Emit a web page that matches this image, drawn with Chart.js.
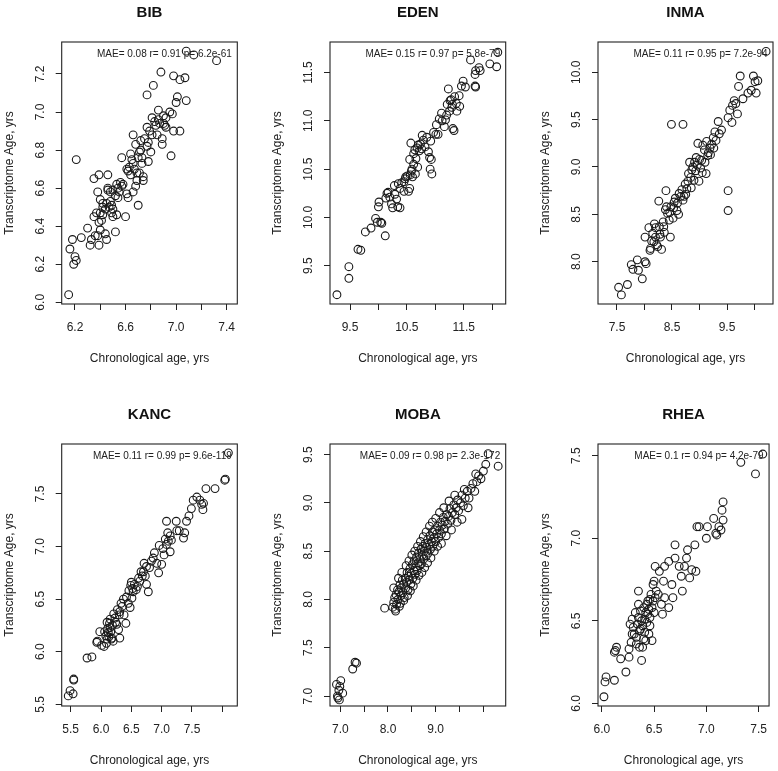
<!DOCTYPE html>
<html lang="en">
<head>
<meta charset="utf-8" />
<title>Transcriptome age vs chronological age</title>
<script src="https://cdn.jsdelivr.net/npm/chart.js@4.4.0/dist/chart.umd.min.js"></script>
<style>
  body { margin: 0; background: #fff; }
  #wrap { position: relative; width: 778px; height: 771px; }
  #wrap canvas { position: absolute; }
</style>
</head>
<body>
<div id="wrap"></div>
<script>
// ---------------- data (chronological age, transcriptome age) ----------------
const bibPoints = [[6.15,6.04],[6.16,6.28],[6.18,6.33],[6.19,6.20],[6.20,6.24],[6.21,6.22],[6.21,6.75],[6.25,6.34],[6.30,6.39],[6.32,6.30],[6.33,6.33],[6.35,6.45],[6.35,6.65],[6.36,6.35],[6.37,6.47],[6.38,6.58],[6.38,6.35],[6.39,6.67],[6.39,6.30],[6.40,6.38],[6.39,6.42],[6.40,6.47],[6.40,6.54],[6.41,6.43],[6.42,6.46],[6.42,6.52],[6.42,6.50],[6.44,6.36],[6.44,6.49],[6.45,6.33],[6.45,6.52],[6.46,6.60],[6.46,6.67],[6.46,6.59],[6.47,6.50],[6.48,6.58],[6.48,6.53],[6.49,6.47],[6.49,6.51],[6.50,6.45],[6.50,6.59],[6.50,6.49],[6.52,6.37],[6.52,6.56],[6.53,6.46],[6.53,6.62],[6.54,6.60],[6.54,6.55],[6.55,6.58],[6.56,6.63],[6.57,6.61],[6.57,6.76],[6.58,6.62],[6.60,6.45],[6.61,6.57],[6.61,6.70],[6.62,6.55],[6.62,6.69],[6.63,6.71],[6.64,6.67],[6.64,6.78],[6.65,6.75],[6.66,6.88],[6.66,6.73],[6.66,6.58],[6.67,6.70],[6.68,6.61],[6.68,6.83],[6.69,6.68],[6.69,6.64],[6.70,6.51],[6.70,6.76],[6.71,6.68],[6.71,6.79],[6.72,6.85],[6.72,6.80],[6.73,6.76],[6.73,6.73],[6.74,6.64],[6.74,6.66],[6.75,6.86],[6.77,6.82],[6.77,6.92],[6.77,7.09],[6.78,6.84],[6.78,6.74],[6.79,6.90],[6.80,6.79],[6.81,6.88],[6.81,6.97],[6.82,7.14],[6.83,6.95],[6.84,6.93],[6.85,6.88],[6.86,7.01],[6.86,6.96],[6.87,6.94],[6.88,7.21],[6.89,6.86],[6.89,6.83],[6.90,6.94],[6.90,6.98],[6.91,6.93],[6.92,6.92],[6.92,6.97],[6.95,7.00],[6.96,6.77],[6.97,6.99],[6.98,6.90],[6.98,7.19],[7.00,7.05],[7.01,7.08],[7.03,6.90],[7.03,7.17],[7.07,7.18],[7.08,7.06],[7.08,7.32],[7.14,7.30],[7.32,7.27]];

const edenPoints = [[9.27,9.20],[9.48,9.37],[9.48,9.49],[9.64,9.67],[9.69,9.66],[9.77,9.85],[9.87,9.89],[9.95,9.99],[9.98,9.95],[10.04,9.95],[10.06,9.94],[10.00,10.11],[10.01,10.16],[10.12,9.81],[10.13,10.20],[10.15,10.25],[10.17,10.26],[10.20,10.21],[10.23,10.14],[10.25,10.10],[10.28,10.33],[10.29,10.24],[10.32,10.19],[10.34,10.11],[10.38,10.10],[10.35,10.35],[10.38,10.30],[10.41,10.36],[10.45,10.37],[10.47,10.40],[10.48,10.42],[10.45,10.27],[10.51,10.43],[10.53,10.27],[10.55,10.30],[10.56,10.44],[10.58,10.48],[10.60,10.42],[10.55,10.60],[10.57,10.77],[10.59,10.50],[10.62,10.66],[10.64,10.70],[10.66,10.61],[10.68,10.72],[10.70,10.75],[10.72,10.69],[10.74,10.76],[10.76,10.71],[10.65,10.45],[10.69,10.52],[10.62,10.55],[10.77,10.85],[10.79,10.80],[10.82,10.73],[10.85,10.83],[10.88,10.68],[10.90,10.62],[10.93,10.60],[10.94,10.45],[10.91,10.50],[10.92,10.79],[10.97,10.88],[11.01,10.86],[11.02,10.96],[11.05,10.86],[11.07,11.02],[11.11,11.08],[11.12,11.00],[11.16,10.94],[11.18,11.01],[11.20,11.06],[11.21,11.17],[11.23,11.33],[11.25,11.10],[11.26,11.21],[11.28,11.22],[11.29,11.14],[11.30,11.17],[11.31,10.92],[11.33,10.90],[11.34,11.25],[11.37,11.18],[11.38,11.10],[11.42,11.26],[11.43,11.15],[11.46,11.36],[11.49,11.41],[11.53,11.35],[11.62,11.63],[11.70,11.48],[11.71,11.52],[11.77,11.55],[11.79,11.52],[11.70,11.36],[11.71,11.35],[11.96,11.59],[12.08,11.56],[12.10,11.71]];

const inmaPoints = [[7.53,7.73],[7.58,7.65],[7.69,7.76],[7.76,7.97],[7.79,7.92],[7.87,8.02],[7.89,7.91],[7.96,7.82],[8.01,8.00],[8.03,7.98],[8.01,8.26],[8.08,8.36],[8.10,8.12],[8.11,8.14],[8.13,8.22],[8.15,8.30],[8.18,8.40],[8.17,8.21],[8.20,8.26],[8.20,8.36],[8.22,8.18],[8.24,8.16],[8.26,8.64],[8.27,8.37],[8.28,8.29],[8.29,8.26],[8.31,8.13],[8.34,8.42],[8.35,8.37],[8.36,8.31],[8.38,8.55],[8.39,8.75],[8.40,8.58],[8.42,8.51],[8.45,8.44],[8.46,8.52],[8.47,8.26],[8.48,8.58],[8.49,9.45],[8.52,8.46],[8.53,8.57],[8.54,8.63],[8.56,8.67],[8.59,8.54],[8.60,8.62],[8.62,8.50],[8.63,8.72],[8.66,8.69],[8.68,8.76],[8.70,9.45],[8.70,8.65],[8.72,8.69],[8.74,8.82],[8.75,8.71],[8.77,8.77],[8.79,8.85],[8.80,8.93],[8.82,9.05],[8.84,8.89],[8.85,8.78],[8.86,8.97],[8.88,9.00],[8.90,8.86],[8.91,9.05],[8.93,8.96],[8.94,9.10],[8.96,9.02],[8.97,9.25],[8.99,8.85],[9.00,9.08],[9.02,8.99],[9.04,9.07],[9.05,8.94],[9.06,9.23],[9.09,9.18],[9.10,9.05],[9.12,8.93],[9.13,9.27],[9.15,9.12],[9.16,9.15],[9.19,9.20],[9.20,9.13],[9.22,9.24],[9.25,9.31],[9.26,9.20],[9.28,9.37],[9.30,9.28],[9.34,9.48],[9.36,9.35],[9.40,9.39],[9.52,9.52],[9.55,9.60],[9.52,8.75],[9.52,8.54],[9.59,9.47],[9.60,9.65],[9.63,9.70],[9.66,9.67],[9.69,9.56],[9.71,9.85],[9.74,9.96],[9.79,9.72],[9.88,9.78],[9.94,9.81],[9.98,9.96],[10.01,9.90],[10.03,9.78],[10.06,9.91],[10.21,10.22]];

const kancPoints = [[5.46,5.58],[5.49,5.63],[5.54,5.60],[5.55,5.74],[5.55,5.73],[5.77,5.94],[5.85,5.95],[5.93,6.09],[5.94,6.10],[5.98,6.19],[6.01,6.06],[6.05,6.05],[6.06,6.19],[6.08,6.15],[6.09,6.08],[6.10,6.28],[6.10,6.12],[6.11,6.22],[6.12,6.18],[6.13,6.14],[6.14,6.27],[6.15,6.23],[6.15,6.31],[6.16,6.19],[6.17,6.12],[6.18,6.13],[6.19,6.25],[6.20,6.10],[6.21,6.36],[6.23,6.32],[6.24,6.28],[6.26,6.26],[6.27,6.40],[6.29,6.21],[6.30,6.35],[6.31,6.38],[6.31,6.13],[6.33,6.46],[6.35,6.43],[6.37,6.50],[6.38,6.35],[6.41,6.27],[6.42,6.52],[6.45,6.46],[6.46,6.58],[6.48,6.42],[6.49,6.63],[6.50,6.66],[6.51,6.51],[6.52,6.60],[6.53,6.57],[6.55,6.64],[6.58,6.59],[6.60,6.62],[6.62,6.70],[6.64,6.67],[6.66,6.76],[6.68,6.72],[6.70,6.76],[6.71,6.84],[6.73,6.72],[6.75,6.81],[6.75,6.64],[6.78,6.57],[6.80,6.80],[6.83,6.86],[6.86,6.89],[6.88,6.94],[6.92,6.84],[6.95,6.75],[6.96,7.01],[7.00,6.83],[7.02,6.98],[7.04,6.92],[7.06,7.07],[7.08,7.02],[7.08,7.24],[7.10,7.13],[7.11,7.05],[7.14,6.95],[7.14,7.10],[7.16,7.06],[7.24,7.24],[7.25,7.15],[7.29,7.15],[7.36,7.08],[7.38,7.13],[7.41,7.24],[7.45,7.29],[7.49,7.36],[7.52,7.44],[7.58,7.47],[7.63,7.44],[7.66,7.40],[7.68,7.35],[7.69,7.41],[7.73,7.55],[7.88,7.55],[8.04,7.63],[8.05,7.64],[8.10,7.89]];

const mobaPoints = [[6.94,7.00],[6.97,7.06],[6.99,7.10],[6.92,7.12],[7.01,7.16],[7.05,7.03],[6.98,6.96],[6.95,6.98],[7.26,7.28],[7.31,7.35],[7.34,7.34],[7.93,7.91],[8.10,7.92],[8.12,7.97],[8.12,8.12],[8.14,8.02],[8.15,7.90],[8.16,7.88],[8.17,8.05],[8.18,7.95],[8.20,8.10],[8.21,8.00],[8.22,8.22],[8.23,8.08],[8.24,7.93],[8.25,8.15],[8.26,7.96],[8.27,8.04],[8.28,8.12],[8.29,8.28],[8.30,8.20],[8.31,8.07],[8.33,8.16],[8.33,7.99],[8.34,8.02],[8.36,8.22],[8.37,8.12],[8.38,8.35],[8.39,8.18],[8.40,8.28],[8.41,8.04],[8.42,8.10],[8.43,8.24],[8.44,8.40],[8.45,8.20],[8.46,8.32],[8.47,8.09],[8.48,8.16],[8.49,8.27],[8.50,8.46],[8.51,8.36],[8.52,8.22],[8.53,8.14],[8.54,8.30],[8.55,8.40],[8.56,8.50],[8.57,8.26],[8.58,8.34],[8.59,8.20],[8.60,8.44],[8.61,8.30],[8.62,8.55],[8.63,8.38],[8.64,8.48],[8.65,8.25],[8.66,8.35],[8.67,8.42],[8.68,8.60],[8.69,8.52],[8.70,8.37],[8.71,8.28],[8.72,8.46],[8.73,8.55],[8.74,8.65],[8.75,8.42],[8.76,8.50],[8.77,8.33],[8.78,8.58],[8.80,8.45],[8.80,8.70],[8.81,8.54],[8.83,8.62],[8.83,8.38],[8.84,8.48],[8.86,8.57],[8.87,8.76],[8.88,8.66],[8.89,8.52],[8.90,8.43],[8.91,8.60],[8.93,8.70],[8.93,8.80],[8.94,8.55],[8.96,8.64],[8.97,8.50],[8.98,8.72],[9.00,8.60],[9.00,8.84],[9.02,8.68],[9.04,8.76],[9.04,8.55],[9.06,8.64],[9.08,8.72],[9.08,8.90],[9.10,8.80],[9.12,8.68],[9.12,8.58],[9.14,8.77],[9.16,8.85],[9.17,8.95],[9.18,8.73],[9.20,8.81],[9.22,8.66],[9.23,8.88],[9.25,8.78],[9.27,8.86],[9.28,9.02],[9.30,8.94],[9.32,8.82],[9.33,8.72],[9.35,8.90],[9.38,8.98],[9.40,8.88],[9.40,9.08],[9.43,8.95],[9.45,8.80],[9.46,9.03],[9.48,8.92],[9.52,9.00],[9.55,9.08],[9.55,8.83],[9.58,8.97],[9.60,9.14],[9.62,9.05],[9.66,9.12],[9.68,8.95],[9.70,9.05],[9.74,9.15],[9.78,9.20],[9.82,9.12],[9.84,9.30],[9.86,9.22],[9.90,9.28],[9.95,9.25],[10.00,9.33],[10.05,9.40],[10.10,9.51],[10.31,9.38]];

const rheaPoints = [[6.02,6.04],[6.03,6.13],[6.04,6.16],[6.12,6.14],[6.12,6.31],[6.13,6.32],[6.14,6.34],[6.18,6.27],[6.23,6.19],[6.26,6.28],[6.26,6.33],[6.28,6.37],[6.27,6.48],[6.29,6.51],[6.29,6.42],[6.30,6.46],[6.31,6.42],[6.32,6.55],[6.33,6.40],[6.33,6.36],[6.34,6.48],[6.35,6.68],[6.35,6.60],[6.35,6.52],[6.36,6.34],[6.36,6.44],[6.37,6.45],[6.37,6.56],[6.38,6.26],[6.38,6.50],[6.39,6.47],[6.39,6.34],[6.40,6.39],[6.40,6.58],[6.41,6.51],[6.41,6.43],[6.42,6.55],[6.42,6.38],[6.43,6.60],[6.43,6.49],[6.44,6.54],[6.44,6.62],[6.45,6.57],[6.45,6.42],[6.46,6.47],[6.46,6.63],[6.46,6.52],[6.47,6.66],[6.48,6.38],[6.48,6.58],[6.49,6.72],[6.49,6.62],[6.50,6.74],[6.50,6.55],[6.51,6.83],[6.51,6.64],[6.52,6.68],[6.54,6.66],[6.55,6.80],[6.57,6.60],[6.58,6.54],[6.59,6.74],[6.60,6.83],[6.60,6.64],[6.64,6.58],[6.64,6.86],[6.67,6.72],[6.68,6.64],[6.70,6.88],[6.70,6.96],[6.74,6.83],[6.76,6.77],[6.77,6.68],[6.79,6.83],[6.81,6.88],[6.82,6.93],[6.84,6.76],[6.86,6.81],[6.89,6.96],[6.90,6.80],[6.91,7.07],[6.93,7.07],[7.00,7.00],[7.01,7.07],[7.07,7.12],[7.09,7.03],[7.10,7.02],[7.12,7.07],[7.14,7.05],[7.15,7.17],[7.16,7.22],[7.16,7.11],[7.33,7.46],[7.47,7.39],[7.54,7.51]];

const cohortNames = ["BIB", "EDEN", "INMA", "KANC", "MOBA", "RHEA"];
const statTexts = [
  "MAE= 0.08 r= 0.91 p= 6.2e-61",
  "MAE= 0.15 r= 0.97 p= 5.8e-79",
  "MAE= 0.11 r= 0.95 p= 7.2e-94",
  "MAE= 0.11 r= 0.99 p= 9.6e-119",
  "MAE= 0.09 r= 0.98 p= 2.3e-172",
  "MAE= 0.1 r= 0.94 p= 4.2e-79"
];

// axis limits and tick labels (R style: labelled ticks + unlabelled minor ticks)
const xLimits = [[6.095, 7.484], [9.148, 12.239], [7.155, 10.336], [5.352, 8.247], [6.784, 10.468], [5.963, 7.60]];
const yLimits = [[5.991, 7.368], [9.104, 11.816], [7.554, 10.319], [5.484, 7.974], [6.897, 9.61], [5.984, 7.571]];
const xSteps = [0.2, 0.5, 0.5, 0.5, 0.5, 0.5];
const ySteps = [0.2, 0.5, 0.5, 0.5, 0.5, 0.5];
const xTickLabels = [
  [6.2, 6.6, 7.0, 7.4],
  [9.5, 10.5, 11.5],
  [7.5, 8.5, 9.5],
  [5.5, 6.0, 6.5, 7.0, 7.5],
  [7.0, 8.0, 9.0],
  [6.0, 6.5, 7.0, 7.5]
];
const yTickLabels = [
  [6.0, 6.2, 6.4, 6.6, 6.8, 7.0, 7.2],
  [9.5, 10.0, 10.5, 11.0, 11.5],
  [8.0, 8.5, 9.0, 9.5, 10.0],
  [5.5, 6.0, 6.5, 7.0, 7.5],
  [7.0, 7.5, 8.0, 8.5, 9.0, 9.5],
  [6.0, 6.5, 7.0, 7.5]
];
const allPoints = [bibPoints, edenPoints, inmaPoints, kancPoints, mobaPoints, rheaPoints];

// ---------------- layout (pixels) ----------------
const canvasLeft = [0, 260, 518, 0, 260, 518];
const canvasTop = [0, 0, 0, 402, 402, 402];
const canvasWidth = [260, 258, 260, 260, 258, 260];
const canvasHeight = 369;
const boxLeft = [61.7, 70, 80, 61.7, 70, 80];
const boxRight = [237.3, 245.7, 255, 237.3, 245.7, 255];
const boxTop = 42;
const boxBottom = 304;
const FONT = "'Liberation Sans', Arial, Helvetica, sans-serif";
const INK = "#222";

const hasLabel = (list, v) => list.some((t) => Math.abs(t - v) < 1e-6);

// box round the plot, rotated y labels and the stats line, R style
const rPlotPlugin = {
  id: "rPlot",
  afterDraw(chart, args, opts) {
    const { ctx, chartArea: a } = chart;
    const yScale = chart.scales.y;
    ctx.save();
    ctx.strokeStyle = INK;
    ctx.lineWidth = 1.1;
    ctx.strokeRect(a.left, a.top, a.right - a.left, a.bottom - a.top);

    ctx.fillStyle = INK;
    ctx.font = "12px " + FONT;
    ctx.textAlign = "center";
    ctx.textBaseline = "middle";
    yScale.ticks.forEach((t) => {
      if (!hasLabel(opts.yLabels, t.value)) return;
      const py = yScale.getPixelForValue(t.value);
      ctx.save();
      ctx.translate(a.left - 21.5, py);
      ctx.rotate(-Math.PI / 2);
      ctx.fillText(t.value.toFixed(1), 0, 0);
      ctx.restore();
    });

    ctx.font = "10px " + FONT;
    ctx.textAlign = "right";
    ctx.fillText(opts.stat, a.right - 5.5, a.top + 12.5);
    ctx.restore();
  }
};

const wrap = document.getElementById("wrap");

cohortNames.forEach((name, i) => {
  const cv = document.createElement("canvas");
  cv.width = canvasWidth[i];
  cv.height = canvasHeight;
  cv.style.left = canvasLeft[i] + "px";
  cv.style.top = canvasTop[i] + "px";
  wrap.appendChild(cv);

  const L = boxLeft[i];
  new Chart(cv, {
    type: "scatter",
    data: {
      datasets: [
        {
          data: allPoints[i].map((p) => ({ x: p[0], y: p[1] })),
          pointStyle: "circle",
          pointRadius: 3.9,
          pointHoverRadius: 3.9,
          borderWidth: 1.1,
          borderColor: "#1a1a1a",
          backgroundColor: "rgba(0,0,0,0)"
        }
      ]
    },
    options: {
      responsive: false,
      animation: false,
      events: [],
      layout: { padding: { left: 0, right: canvasWidth[i] - boxRight[i], top: 0, bottom: 0 } },
      plugins: {
        legend: { display: false },
        tooltip: { enabled: false },
        title: {
          display: true,
          fullSize: false,
          text: name,
          color: "#111",
          font: { family: FONT, size: 15, weight: "bold" },
          padding: { top: 4, bottom: boxTop - 4 - 18 }
        },
        rPlot: { stat: statTexts[i], yLabels: yTickLabels[i] }
      },
      scales: {
        x: {
          type: "linear",
          min: xLimits[i][0],
          max: xLimits[i][1],
          afterFit: (s) => { s.height = canvasHeight - boxBottom; },
          border: { display: false },
          grid: { drawOnChartArea: false, drawTicks: true, tickLength: 6, color: INK, tickWidth: 1 },
          ticks: {
            stepSize: xSteps[i],
            includeBounds: false,
            autoSkip: false,
            maxRotation: 0,
            padding: 10.5,
            color: INK,
            font: { family: FONT, size: 12 },
            callback: (v) => (hasLabel(xTickLabels[i], v) ? v.toFixed(1) : "")
          },
          title: {
            display: true,
            text: "Chronological age, yrs",
            color: INK,
            font: { family: FONT, size: 12 },
            padding: { top: 0, bottom: 2.8 }
          }
        },
        y: {
          type: "linear",
          min: yLimits[i][0],
          max: yLimits[i][1],
          afterFit: (s) => { s.width = L; },
          border: { display: false },
          grid: { drawOnChartArea: false, drawTicks: true, tickLength: 6, color: INK, tickWidth: 1 },
          ticks: {
            stepSize: ySteps[i],
            includeBounds: false,
            autoSkip: false,
            display: false
          },
          title: {
            display: true,
            text: "Transcriptome Age, yrs",
            color: INK,
            font: { family: FONT, size: 12 },
            padding: { top: L - 52 - 7.2, bottom: 0 }
          }
        }
      }
    },
    plugins: [rPlotPlugin]
  });
});
</script>
</body>
</html>
